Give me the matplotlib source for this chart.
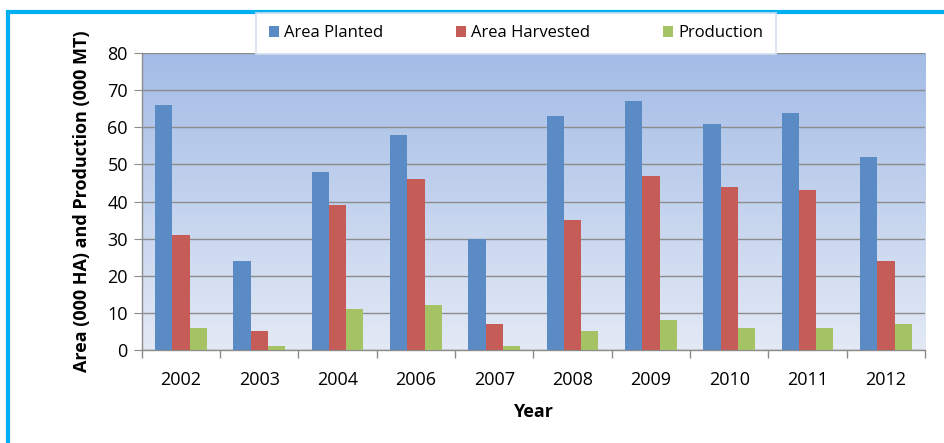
import matplotlib.pyplot as plt
import matplotlib.patches as mpatches
from matplotlib.colors import LinearSegmentedColormap
import numpy as np

plt.rcParams['font.family'] = ['Open Sans', 'DejaVu Sans']

# data
years = ['2002', '2003', '2004', '2006', '2007', '2008', '2009', '2010', '2011', '2012']
area_planted = [66, 24, 48, 58, 30, 63, 67, 61, 64, 52]
area_harvested = [31, 5, 39, 46, 7, 35, 47, 44, 43, 24]
production = [6, 1, 11, 12, 1, 5, 8, 6, 6, 7]

series_names = ['Area Planted', 'Area Harvested', 'Production']
colors = ['#5b8bc5', '#c65c58', '#a5c264']

fig = plt.figure(figsize=(9.45, 4.43), dpi=100)
ax = fig.add_axes([0.150, 0.210, 0.829, 0.670])

# gradient background of the plot area
grad = np.linspace(0, 1, 256).reshape(-1, 1)
cmap = LinearSegmentedColormap.from_list('bg', ['#e3e9f5', '#a3bce6'])
ax.imshow(grad, aspect='auto', cmap=cmap, origin='lower',
          extent=[0, 1, 0, 1], transform=ax.transAxes, zorder=0)

x = np.arange(len(years))
w = 0.22
for i, (vals, c, name) in enumerate(zip([area_planted, area_harvested, production], colors, series_names)):
    ax.bar(x + (i - 1) * w, vals, w, color=c, label=name, zorder=3,
           edgecolor='none')

ax.set_xlim(-0.5, len(years) - 0.5)
ax.set_ylim(0, 80)
ax.set_yticks(range(0, 81, 10))
ax.yaxis.grid(True, color='#8c8c8c', linewidth=1.0, zorder=1)
ax.set_axisbelow(True)

ax.set_xticks(x)
ax.set_xticklabels(years, fontsize=13)
ax.set_xticks(np.arange(-0.5, len(years), 1), minor=True)
ax.tick_params(axis='x', which='major', length=0, pad=15)
ax.tick_params(axis='x', which='minor', length=6, color='#8c8c8c', width=1)
ax.tick_params(axis='y', length=6, color='#8c8c8c', labelsize=13, pad=4)

for s in ['top', 'right']:
    ax.spines[s].set_visible(False)
for s in ['left', 'bottom']:
    ax.spines[s].set_color('#8c8c8c')
    ax.spines[s].set_linewidth(1.0)

ax.set_ylabel('Area (000 HA) and Production (000 MT)', fontsize=13, fontweight='bold', labelpad=12)
ax.set_xlabel('Year', fontsize=13, fontweight='bold', labelpad=10)

handles, labels = ax.get_legend_handles_labels()
leg = fig.legend(handles, labels, ncol=3, loc='center',
                 bbox_to_anchor=(0.546, 0.925), fontsize=12,
                 handlelength=0.6, handleheight=0.6, handletextpad=0.3,
                 columnspacing=4.4, frameon=True, fancybox=False,
                 borderpad=0.75, borderaxespad=0)
leg.get_frame().set_edgecolor('#d6e0f0')
leg.get_frame().set_linewidth(1.5)

# outer cyan frame
fig.patches.append(mpatches.Rectangle((8 / 945, -0.1), 1.1, 1 - 12 / 443 + 0.1,
                                      transform=fig.transFigure, fill=False,
                                      edgecolor='#00b0f0', linewidth=3))

fig.savefig('out.png', dpi=100)
